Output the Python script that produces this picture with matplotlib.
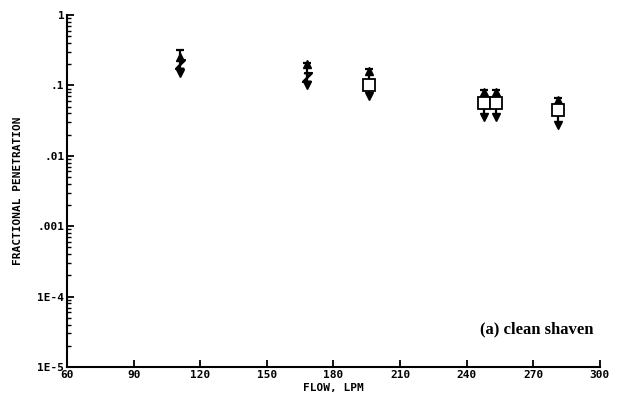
import matplotlib
matplotlib.use('Agg')
from matplotlib import pyplot as plt
from matplotlib.ticker import FixedLocator, LogLocator, NullFormatter

# flow rates (LPM) and fractional penetration
flow = [111, 168, 196, 248, 253, 281]
pen_high = [0.25, 0.20, 0.16, 0.080, 0.080, 0.062]
pen_mid = [0.20, 0.13, 0.10, 0.056, 0.056, 0.045]
pen_low = [0.15, 0.10, 0.072, 0.036, 0.036, 0.027]
pen_top = [0.32, 0.21, 0.17, 0.085, 0.085, 0.066]

square_flow = [196, 248, 253, 281]
square_pen = [0.10, 0.056, 0.056, 0.045]

x_ticks = [60, 90, 120, 150, 180, 210, 240, 270, 300]
y_ticks = [1e-5, 1e-4, 1e-3, 1e-2, 1e-1, 1]
y_tick_labels = ['1E-5', '1E-4', '.001', '.01', '.1', '1']

fig = plt.figure(figsize=(6.21, 4.08), dpi=100)
ax = fig.add_axes([0.108, 0.1005, 0.858, 0.8625])

ax.set_yscale('log')
ax.set_xlim(60, 300)
ax.set_ylim(1e-5, 1)

# vertical spread at each flow
ax.vlines(flow, pen_low, pen_top, colors='black', linewidth=1.6)
ax.plot(flow, pen_top, linestyle='none', marker='_', markersize=6,
        markeredgewidth=1.6, color='black')
ax.plot(flow, pen_high, linestyle='none', marker='^', markersize=6, color='black')
ax.plot(flow, pen_low, linestyle='none', marker='v', markersize=6, color='black')
ax.plot(flow[:2], pen_mid[:2], linestyle='none', marker='$Z$', markersize=7,
        color='black')
ax.plot(square_flow, square_pen, linestyle='none', marker='s', markersize=8,
        markerfacecolor='white', markeredgecolor='black', markeredgewidth=1.3)

for side in ['top', 'right']:
    ax.spines[side].set_visible(False)
for side in ['left', 'bottom']:
    ax.spines[side].set_linewidth(1.5)

mono = {'family': 'DejaVu Sans Mono', 'weight': 'bold', 'size': 8}

ax.xaxis.set_major_locator(FixedLocator(x_ticks))
ax.set_xticklabels([str(v) for v in x_ticks], fontdict=mono)
ax.yaxis.set_major_locator(FixedLocator(y_ticks))
ax.set_yticklabels(y_tick_labels, fontdict=mono)
ax.yaxis.set_minor_locator(LogLocator(base=10, subs=range(2, 10)))
ax.yaxis.set_minor_formatter(NullFormatter())

ax.tick_params(axis='both', which='major', direction='in', length=5, width=1.3,
               pad=2)
ax.tick_params(axis='y', which='minor', direction='in', length=3, width=1)

ax.set_xlabel('FLOW, LPM', fontdict=mono, labelpad=2)
ax.set_ylabel('FRACTIONAL PENETRATION', fontdict=mono, labelpad=10)

ax.text(246, 3.4e-5, '(a) clean shaven', fontsize=12, fontweight='bold',
        family='Liberation Serif', va='center')

plt.savefig('out.png', dpi=100)
